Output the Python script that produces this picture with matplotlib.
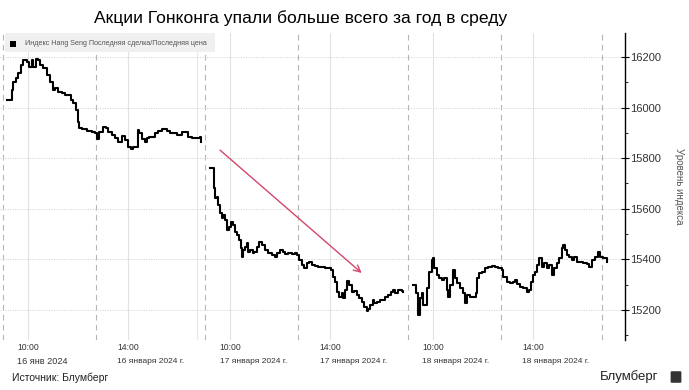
import numpy as np
import matplotlib
matplotlib.use("Agg")
import matplotlib.pyplot as plt
from matplotlib.patches import Rectangle, FancyBboxPatch
from matplotlib.transforms import blended_transform_factory

plt.rcParams['font.family'] = ['Liberation Sans', 'DejaVu Sans']

# Hang Seng intraday, minutes of trading since 9:30 (lunch break removed)
day1_min = [-8, -1, 1, 3, 8, 12, 17, 21, 28, 32,
            37, 39, 44, 48, 52, 57, 64, 70, 75, 79,
            84, 91, 97, 102, 107, 111, 116, 120, 122, 127,
            136, 145, 151, 154, 158, 165, 170, 174, 181, 187,
            192, 199, 205, 210, 215, 219, 224, 228, 230, 235,
            241, 244, 248, 253, 259, 264, 271, 280, 286, 291,
            298, 307, 313, 318, 325, 334, 340, 341]
day1_val = [16030, 16030, 16070, 16101, 16117, 16137, 16168, 16188, 16180, 16160,
            16188, 16160, 16192, 16188, 16168, 16157, 16129, 16101, 16070, 16077,
            16062, 16058, 16050, 16050, 16030, 16018, 15990, 15943, 15919, 15915,
            15907, 15904, 15900, 15876, 15904, 15923, 15919, 15904, 15892, 15880,
            15864, 15888, 15872, 15844, 15836, 15844, 15844, 15911, 15900, 15876,
            15864, 15880, 15884, 15884, 15900, 15907, 15915, 15907, 15900, 15900,
            15892, 15904, 15904, 15884, 15880, 15880, 15884, 15864]

day2_min = [-6, -1, 1, 3, 7, 8, 12, 16, 17, 21,
            25, 28, 32, 35, 39, 43, 46, 50, 52, 53,
            57, 61, 62, 66, 71, 73, 79, 82, 88, 93,
            98, 106, 111, 115, 120, 125, 129, 134, 142, 147,
            151, 154, 160, 163, 169, 172, 178, 183, 188, 196,
            201, 206, 212, 215, 219, 223, 226, 232, 233, 237,
            241, 244, 250, 253, 259, 262, 268, 271, 277, 278,
            282, 287, 289, 294, 300, 305, 309, 314, 320, 323,
            327, 332, 340, 341]
day2_val = [15761, 15761, 15682, 15643, 15647, 15615, 15583, 15564, 15575, 15556,
            15516, 15528, 15548, 15536, 15508, 15496, 15477, 15445, 15409, 15437,
            15449, 15465, 15429, 15437, 15425, 15429, 15449, 15469, 15457, 15437,
            15425, 15417, 15409, 15425, 15437, 15429, 15421, 15425, 15421, 15425,
            15417, 15398, 15378, 15366, 15386, 15390, 15378, 15374, 15370, 15370,
            15366, 15366, 15358, 15330, 15311, 15271, 15251, 15267, 15247, 15279,
            15315, 15299, 15271, 15275, 15259, 15247, 15231, 15212, 15196, 15204,
            15220, 15239, 15228, 15231, 15239, 15239, 15251, 15259, 15271, 15279,
            15267, 15279, 15275, 15271]

day3_min = [-6, -2, 0, 3, 7, 10, 12, 16, 19, 23,
            28, 30, 32, 37, 41, 46, 50, 55, 57, 61,
            66, 70, 73, 79, 84, 88, 91, 97, 102, 107,
            109, 113, 118, 124, 129, 136, 142, 147, 154, 156,
            163, 169, 174, 178, 181, 187, 192, 199, 203, 207,
            210, 214, 217, 221, 226, 230, 235, 239, 244, 248,
            253, 257, 262, 264, 268, 271, 275, 280, 284, 289,
            295, 300, 307, 311, 316, 322, 327, 331, 336, 341,
            343]
day3_val = [15299, 15299, 15267, 15180, 15247, 15267, 15220, 15220, 15287, 15350,
            15398, 15405, 15366, 15338, 15326, 15318, 15326, 15279, 15251, 15299,
            15358, 15326, 15307, 15287, 15267, 15228, 15259, 15251, 15251, 15267,
            15326, 15346, 15350, 15366, 15370, 15374, 15370, 15366, 15358, 15330,
            15311, 15307, 15311, 15318, 15303, 15291, 15287, 15271, 15279, 15311,
            15338, 15350, 15378, 15405, 15370, 15386, 15366, 15378, 15338, 15366,
            15386, 15405, 15445, 15457, 15437, 15417, 15409, 15398, 15409, 15390,
            15390, 15386, 15382, 15370, 15398, 15409, 15429, 15409, 15405, 15405,
            15390]

time_labels = ['10:00', '14:00']
time_ticks = [30, 210]          # minutes since 9:30, lunch removed
date_labels = [['16 янв 2024', '16 января 2024 г.'],
               ['17 января 2024 г.', '17 января 2024 г.'],
               ['18 января 2024 г.', '18 января 2024 г.']]
session_marks = [-15, 152]       # pre-open and lunch separators each day
close_mark = 335
y_ticks = [15200, 15400, 15600, 15800, 16000, 16200]
arrow_start = (376, 15832)
arrow_end = (631, 15346)

DAY_SPAN = 364.5

fig = plt.figure(figsize=(6.89, 3.9), dpi=100)
ax = fig.add_axes([0.0, 0.1282, 0.9071, 0.7872])

days = [(day1_min, day1_val), (day2_min, day2_val), (day3_min, day3_val)]
for i, (m, v) in enumerate(days):
    x = np.array(m) + i * DAY_SPAN
    ax.plot(x, v, color='black', lw=1.5, drawstyle='steps-post', zorder=3)
    for s in session_marks:
        ax.axvline(s + i * DAY_SPAN, color='#b5b5b5', lw=0.8, ls=(0, (5, 4)), zorder=1)
    for t in time_ticks:
        ax.axvline(t + i * DAY_SPAN, color='#e2e2e2', lw=0.8, zorder=1)

# close markers: faint on first day, dashed on the last
ax.axvline(close_mark, color='#e8e8e8', lw=0.8, zorder=1)
ax.axvline(close_mark + 2 * DAY_SPAN, color='#b5b5b5', lw=0.8, ls=(0, (5, 4)), zorder=1)

for yv in y_ticks:
    ax.axhline(yv, color='#cfcfcf', lw=0.7, ls=(0, (1, 1.5)), zorder=1)

ax.set_xlim(-20, 1105)
ax.set_ylim(15081, 16295)

# axis styling
for side in ['left', 'top', 'bottom']:
    ax.spines[side].set_visible(False)
ax.spines['right'].set_color('black')
ax.spines['right'].set_linewidth(1.0)
ax.yaxis.tick_right()
ax.set_yticks(y_ticks)
ax.set_yticklabels([str(v) for v in y_ticks])
ax.set_yticks(np.arange(15100, 16300, 100), minor=True)
ax.tick_params(axis='y', which='major', direction='inout', length=6, width=0.8,
               labelsize=8, labelcolor='#333333', pad=1)
ax.tick_params(axis='y', which='minor', direction='out', length=2, width=0.6)
ax.set_xticks([])
ax.yaxis.set_label_position('right')
ax.set_ylabel('Уровень индекса', rotation=-90, fontsize=7, color='#555555', labelpad=16)

# x labels: time + date
tr = blended_transform_factory(ax.transData, fig.transFigure)
for i in range(3):
    for j, t in enumerate(time_ticks):
        xp = t + i * DAY_SPAN
        ax.text(xp, 0.110, time_labels[j], transform=tr, ha='center', va='center',
                fontsize=6.2, color='#333333')
        fs = 6.6 if (i == 0 and j == 0) else 6
        ax.annotate(date_labels[i][j], xy=(xp, 0.074), xycoords=tr,
                    xytext=(-7.5, 0), textcoords='offset points',
                    ha='left', va='center', fontsize=fs, color='#333333')

# trend arrow
ax.annotate('', xy=arrow_end, xytext=arrow_start,
            arrowprops=dict(arrowstyle='->', color='#d2476a', lw=1.0,
                            mutation_scale=12, shrinkA=0, shrinkB=0), zorder=4)

# legend band
fig.patches.append(Rectangle((5 / 689, 1 - 52 / 390), 210 / 689, 19 / 390,
                             transform=fig.transFigure, facecolor='#f0f0f0',
                             edgecolor='none', zorder=5))
fig.patches.append(Rectangle((10 / 689, 1 - 47 / 390), 6 / 689, 6 / 390,
                             transform=fig.transFigure, facecolor='black',
                             edgecolor='none', zorder=6))
fig.text(25 / 689, 1 - 43.5 / 390, 'Индекс Hang Seng Последняя сделка/Последняя цена',
         fontsize=5.1, color='#555555', ha='left', va='center', zorder=7)

fig.text(301 / 689, 1 - 18 / 390, 'Акции Гонконга упали больше всего за год в среду',
         fontsize=12.6, ha='center', va='center', color='black')
fig.text(12 / 689, 1 - 378 / 390, 'Источник: Блумберг', fontsize=7.5, ha='left',
         va='center', color='#222222')
fig.text(658 / 689, 1 - 377 / 390, 'Блумберг', fontsize=9.5, ha='right',
         va='center', color='#222222')
fig.patches.append(FancyBboxPatch((672 / 689, 1 - 382 / 390), 8 / 689, 10 / 390,
                                  boxstyle='round,pad=0.002', transform=fig.transFigure,
                                  facecolor='#333333', edgecolor='none'))

plt.savefig('out.png', dpi=100)
